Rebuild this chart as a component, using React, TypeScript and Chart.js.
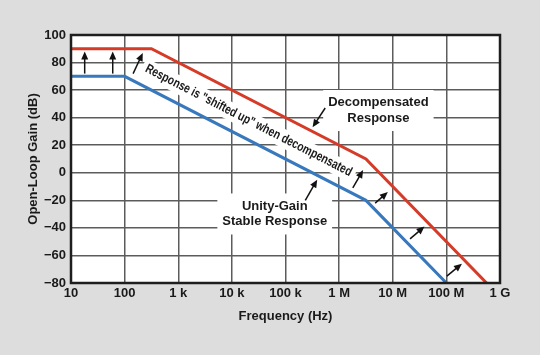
import React, { useEffect, useRef } from "react";
import { Chart, registerables } from "chart.js";

Chart.register(...registerables);

// ---- data ----
const xTickValues = [1e1, 1e2, 1e3, 1e4, 1e5, 1e6, 1e7, 1e8, 1e9];
const xTickLabels = ["10", "100", "1 k", "10 k", "100 k", "1 M", "10 M", "100 M", "1 G"];
const yTickLabels = ["\u221280", "\u221260", "\u221240", "\u221220", "0", "20", "40", "60", "80", "100"];

const decompFreq = [10, 316, 3.16e6, 5.62e8];
const decompGain = [90, 90, 10, -80];
const stableFreq = [10, 100, 3.16e6, 1e8];
const stableGain = [70, 70, -20, -80];

// arrows: [fromFreq, fromGain, toFreq, toGain]
const arrows: number[][] = [
  [18, 72, 18, 88],
  [60, 72, 60, 88],
  [144, 72, 218, 87],
  [1.8e6, -11, 2.8e6, 2],
  [4.7e6, -22, 8.1e6, -14],
  [2.1e7, -48, 3.9e7, -39],
  [1.02e8, -75, 1.95e8, -66],
  [5.5e5, 47, 3.2e5, 33],
  [2.34e5, -20, 3.9e5, -5],
];

// labels
const decompLabel = ["Decompensated", "Response"];
const decompLabelPos = [5.4e6, 45.2];
const stableLabel = ["Unity-Gain", "Stable Response"];
const stableLabelPos = [6.3e4, -29.9];
const shiftText = "Response is \"shifted up\" when decompensated";
const shiftFrom = [251, 76];
const shiftTo = [1.67e6, -0.2];

const FONT = "'Liberation Sans', Arial, Helvetica, sans-serif";
const LINE_GAP = 15.5;

const annotPlugin = {
  id: "annot",
  beforeDatasetsDraw(chart: any) {
    const ctx = chart.ctx;
    const xs = chart.scales.x;
    const ys = chart.scales.y;
    ctx.save();
    ctx.fillStyle = "#ffffff";
    const boxes: [number[], string[]][] = [
      [decompLabelPos, decompLabel],
      [stableLabelPos, stableLabel],
    ];
    ctx.font = `bold 13px ${FONT}`;
    for (const [pos, lines] of boxes) {
      const cx = xs.getPixelForValue(pos[0]);
      const cy = ys.getPixelForValue(pos[1]);
      const w = Math.max(...lines.map((l) => ctx.measureText(l).width)) + 10;
      const h = lines.length * LINE_GAP + 10;
      ctx.fillRect(cx - w / 2, cy - h / 2, w, h);
    }
    const x0 = xs.getPixelForValue(shiftFrom[0]);
    const y0 = ys.getPixelForValue(shiftFrom[1]);
    const x1 = xs.getPixelForValue(shiftTo[0]);
    const y1 = ys.getPixelForValue(shiftTo[1]);
    const ang = Math.atan2(y1 - y0, x1 - x0);
    const len = Math.hypot(x1 - x0, y1 - y0);
    ctx.translate((x0 + x1) / 2, (y0 + y1) / 2);
    ctx.rotate(ang);
    ctx.fillRect(-len / 2 - 4, -9, len + 8, 18);
    ctx.restore();
  },
  afterDatasetsDraw(chart: any) {
    const ctx = chart.ctx;
    const xs = chart.scales.x;
    const ys = chart.scales.y;
    const area = chart.chartArea;
    ctx.save();
    ctx.fillStyle = "#1a1a1a";
    ctx.font = `bold 13px ${FONT}`;
    ctx.textAlign = "center";
    ctx.textBaseline = "middle";
    const boxes: [number[], string[]][] = [
      [decompLabelPos, decompLabel],
      [stableLabelPos, stableLabel],
    ];
    for (const [pos, lines] of boxes) {
      const cx = xs.getPixelForValue(pos[0]);
      const cy = ys.getPixelForValue(pos[1]);
      lines.forEach((l, i) => {
        ctx.fillText(l, cx, cy + (i - (lines.length - 1) / 2) * LINE_GAP);
      });
    }
    const x0 = xs.getPixelForValue(shiftFrom[0]);
    const y0 = ys.getPixelForValue(shiftFrom[1]);
    const x1 = xs.getPixelForValue(shiftTo[0]);
    const y1 = ys.getPixelForValue(shiftTo[1]);
    const ang = Math.atan2(y1 - y0, x1 - x0);
    const len = Math.hypot(x1 - x0, y1 - y0);
    ctx.save();
    ctx.translate((x0 + x1) / 2, (y0 + y1) / 2);
    ctx.rotate(ang);
    ctx.font = `bold 13px ${FONT}`;
    const tw = ctx.measureText(shiftText).width;
    ctx.scale(len / tw, 1);
    ctx.fillText(shiftText, 0, 0);
    ctx.restore();

    ctx.strokeStyle = "#111";
    ctx.fillStyle = "#111";
    ctx.lineWidth = 1.5;
    for (const a of arrows) {
      const ax = xs.getPixelForValue(a[0]);
      const ay = ys.getPixelForValue(a[1]);
      const bx = xs.getPixelForValue(a[2]);
      const by = ys.getPixelForValue(a[3]);
      const t = Math.atan2(by - ay, bx - ax);
      const hl = 8;
      const hw = 3.5;
      const bxs = bx - Math.cos(t) * hl;
      const bys = by - Math.sin(t) * hl;
      ctx.beginPath();
      ctx.moveTo(ax, ay);
      ctx.lineTo(bxs + Math.cos(t), bys + Math.sin(t));
      ctx.stroke();
      ctx.beginPath();
      ctx.moveTo(bx, by);
      ctx.lineTo(bxs + Math.sin(t) * hw, bys - Math.cos(t) * hw);
      ctx.lineTo(bxs - Math.sin(t) * hw, bys + Math.cos(t) * hw);
      ctx.closePath();
      ctx.fill();
    }

    ctx.strokeStyle = "#1e1e1e";
    ctx.lineWidth = 2.5;
    ctx.strokeRect(area.left, area.top, area.right - area.left, area.bottom - area.top);
    ctx.restore();
  },
};

const bgPlugin = {
  id: "bg",
  beforeDraw(chart: any) {
    const ctx = chart.ctx;
    const a = chart.chartArea;
    ctx.save();
    ctx.fillStyle = "#dddddd";
    ctx.fillRect(0, 0, chart.width, chart.height);
    ctx.fillStyle = "#ffffff";
    ctx.fillRect(a.left, a.top, a.right - a.left, a.bottom - a.top);
    ctx.restore();
  },
};

export default function App() {
  const ref = useRef<HTMLCanvasElement | null>(null);
  useEffect(() => {
    document.body.style.margin = "0";
    const canvas = ref.current!;
    const chart = new Chart(canvas, {
      type: "line",
      data: {
        datasets: [
          {
            label: "Decompensated",
            data: decompFreq.map((f, i) => ({ x: f, y: decompGain[i] })),
            borderColor: "#d63b27",
            borderWidth: 3,
            pointRadius: 0,
            tension: 0,
          },
          {
            label: "Unity-Gain Stable",
            data: stableFreq.map((f, i) => ({ x: f, y: stableGain[i] })),
            borderColor: "#3878bd",
            borderWidth: 3,
            pointRadius: 0,
            tension: 0,
          },
        ],
      },
      options: {
        responsive: false,
        animation: false,
        events: [],
        layout: { padding: { left: 22, right: 40, top: 35, bottom: 27 } },
        plugins: { legend: { display: false }, tooltip: { enabled: false } },
        scales: {
          x: {
            type: "logarithmic",
            min: 10,
            max: 1e9,
            afterBuildTicks: (s: any) => {
              s.ticks = xTickValues.map((v) => ({ value: v }));
            },
            afterFit: (s: any) => {
              s.height = 45;
            },
            ticks: {
              autoSkip: false,
              maxRotation: 0,
              padding: 3,
              color: "#1a1a1a",
              font: { family: FONT, size: 13, weight: "bold" },
              callback: (_v: any, i: number) => xTickLabels[i],
            },
            grid: { color: "#5c5c5c", lineWidth: 1.5, drawTicks: false },
            border: { display: false },
            title: {
              display: true,
              text: "Frequency (Hz)",
              color: "#1a1a1a",
              font: { family: FONT, size: 13, weight: "bold" },
            },
          },
          y: {
            type: "linear",
            min: -80,
            max: 100,
            afterFit: (s: any) => {
              s.width = 49;
            },
            ticks: {
              stepSize: 20,
              padding: 5,
              color: "#1a1a1a",
              font: { family: FONT, size: 13, weight: "bold" },
              callback: (_v: any, i: number) => yTickLabels[i],
            },
            grid: { color: "#5c5c5c", lineWidth: 1.5, drawTicks: false },
            border: { display: false },
            title: {
              display: true,
              text: "Open-Loop Gain (dB)",
              color: "#1a1a1a",
              font: { family: FONT, size: 13, weight: "bold" },
            },
          },
        },
      },
      plugins: [bgPlugin, annotPlugin],
    } as any);
    return () => chart.destroy();
  }, []);
  return (
    <div style={{ width: 540, height: 355, background: "#dddddd" }}>
      <canvas ref={ref} width={540} height={355} style={{ display: "block" }} />
    </div>
  );
}
